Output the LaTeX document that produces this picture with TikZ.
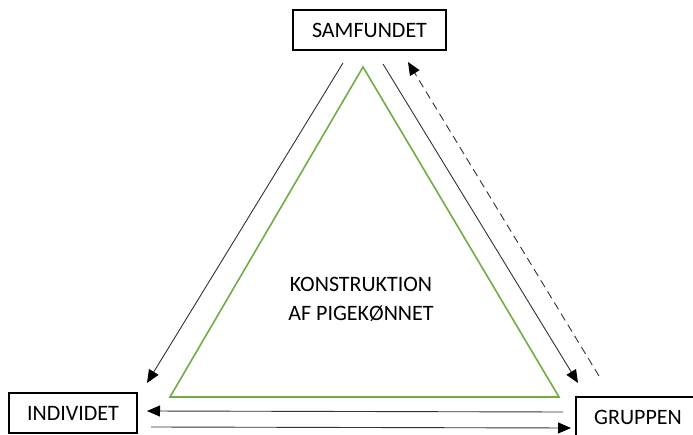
\documentclass[tikz,border=0pt]{standalone}
\usepackage{fontspec}
\setmainfont{Carlito}
\usetikzlibrary{arrows.meta}
\definecolor{trigreen}{RGB}{112,173,71}
\definecolor{arrgray}{RGB}{50,50,50}
\tikzset{
  labelbox/.style={draw=black, line width=1.6pt, minimum height=40pt, inner sep=0pt, font=\fontsize{22}{26}\selectfont},
  conn/.style={draw=arrgray, line width=0.9pt, -{Triangle[length=13pt,width=11pt,fill=black,color=black]}},
  dconn/.style={conn, dash pattern=on 8pt off 5pt}
}
\begin{document}
\begin{tikzpicture}[x=1pt,y=-1pt]
\useasboundingbox (0,0) rectangle (693,435);
\node[labelbox, minimum width=153pt] (sam) at (369.5,30) {SAMFUNDET};
\node[labelbox, minimum width=128pt] (ind) at (73,413) {INDIVIDET};
\node[labelbox, minimum width=124pt] (gru) at (638,417) {GRUPPEN};
% triangle
\coordinate (tA) at (363,67);
\coordinate (tB) at (170,397);
\coordinate (tC) at (559,397);
\draw[trigreen, line width=1.6pt, line join=miter] (tA) -- (tB) -- (tC) -- cycle;
\node[align=center, font=\fontsize{22}{29}\selectfont] (mid) at (361,299) {KONSTRUKTION\\AF PIGEKØNNET};
% arrows
\coordinate (a1s) at (343,63); \coordinate (a1e) at (147,383);
\coordinate (a2s) at (383,64); \coordinate (a2e) at (578,383);
\coordinate (a3s) at (599,376); \coordinate (a3e) at (408,62);
\coordinate (a4s) at (563,412); \coordinate (a4e) at (147,411);
\coordinate (a5s) at (151,427); \coordinate (a5e) at (571,428);
\draw[conn] (a1s) -- (a1e);
\draw[conn] (a2s) -- (a2e);
\draw[dconn] (a3s) -- (a3e);
\draw[conn] (a4s) -- (a4e);
\draw[conn] (a5s) -- (a5e);
\end{tikzpicture}
\end{document}
